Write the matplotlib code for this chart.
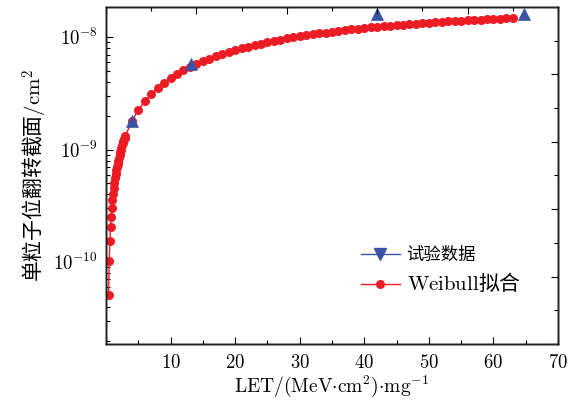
import matplotlib
matplotlib.use("Agg")
import matplotlib.pyplot as plt
from matplotlib.lines import Line2D
from matplotlib.ticker import FixedLocator, FuncFormatter, LogLocator, MultipleLocator, NullFormatter
import numpy as np

plt.rcParams["mathtext.fontset"] = "cm"
plt.rcParams["font.family"] = ["Noto Sans CJK SC", "DejaVu Sans"]

RED = "#ED1C24"
BLUE = "#3B53A4"

# 试验数据 (LET, 截面)
let_exp = [4.1, 13.1, 42.0, 64.8]
sigma_exp = [1.80e-9, 5.73e-9, 1.61e-8, 1.61e-8]

# Weibull 拟合曲线上的点
let_fit = [0.4, 0.5, 0.6, 0.7, 0.8, 0.9, 1.0, 1.1, 1.2, 1.3, 1.4, 1.5, 1.6, 1.7,
           1.8, 1.9, 2.0, 2.1, 2.2, 2.3, 2.4, 2.5, 2.6, 2.7, 2.8, 2.9, 3.0,
           4, 5, 6, 7, 8, 9, 10, 11, 12, 13, 14, 15, 16, 17, 18, 19, 20, 21, 22,
           23, 24, 25, 26, 27, 28, 29, 30, 31, 32, 33, 34, 35, 36, 37, 38, 39, 40,
           41, 42, 43, 44, 45, 46, 47, 48, 49, 50, 51, 52, 53, 54, 55, 56, 57, 58,
           59, 60, 61, 62, 63]
sigma_fit = [5.11e-11, 1.021e-10, 1.530e-10, 2.037e-10, 2.542e-10, 3.046e-10,
             3.549e-10, 4.050e-10, 4.550e-10, 5.048e-10, 5.545e-10, 6.040e-10,
             6.533e-10, 7.026e-10, 7.517e-10, 8.006e-10, 8.494e-10, 8.981e-10,
             9.466e-10, 9.950e-10, 1.0432e-9, 1.0913e-9, 1.1393e-9, 1.1871e-9,
             1.2347e-9, 1.2823e-9, 1.3297e-9,
             1.797e-9, 2.250e-9, 2.691e-9, 3.119e-9, 3.535e-9, 3.939e-9, 4.331e-9,
             4.712e-9, 5.082e-9, 5.442e-9, 5.791e-9, 6.130e-9, 6.460e-9, 6.780e-9,
             7.092e-9, 7.394e-9, 7.687e-9, 7.973e-9, 8.250e-9, 8.519e-9, 8.780e-9,
             9.034e-9, 9.281e-9, 9.521e-9, 9.753e-9, 9.980e-9, 1.0199e-8, 1.0413e-8,
             1.0620e-8, 1.0822e-8, 1.1017e-8, 1.1207e-8, 1.1392e-8, 1.1571e-8,
             1.1746e-8, 1.1915e-8, 1.2079e-8, 1.2239e-8, 1.2394e-8, 1.2545e-8,
             1.2691e-8, 1.2833e-8, 1.2972e-8, 1.3106e-8, 1.3236e-8, 1.3363e-8,
             1.3486e-8, 1.3606e-8, 1.3722e-8, 1.3834e-8, 1.3944e-8, 1.4050e-8,
             1.4154e-8, 1.4254e-8, 1.4352e-8, 1.4447e-8, 1.4539e-8, 1.4628e-8,
             1.4715e-8, 1.4800e-8]

x_ticks = [10, 20, 30, 40, 50, 60, 70]
legend_labels = ["试验数据", r"$\mathrm{Weibull}$拟合"]

fig = plt.figure(figsize=(5.78, 4.03), dpi=100)
ax = fig.add_axes([106 / 578, 59 / 403, 452 / 578, 337 / 403])

ax.plot(let_fit, sigma_fit, "-o", color=RED, lw=1.0, ms=6.5, mew=0, zorder=2)
ax.plot(let_exp, sigma_exp, "^", color=BLUE, ms=9, mew=0.5, mec=BLUE, ls="none", zorder=3)

ax.set_yscale("log")
ax.set_xlim(0, 70)
ax.set_ylim(1.866e-11, 1.859e-8)

ax.xaxis.set_major_locator(FixedLocator(x_ticks))
ax.xaxis.set_minor_locator(FixedLocator([5, 15, 25, 35, 45, 55, 65]))
ax.xaxis.set_major_formatter(FuncFormatter(lambda v, p: r"$\mathrm{%d}$" % v))
ax.yaxis.set_major_locator(LogLocator(base=10, numticks=10))
ax.yaxis.set_minor_locator(LogLocator(base=10, subs=np.arange(2, 10), numticks=20))
ax.yaxis.set_minor_formatter(NullFormatter())
ax.yaxis.set_major_formatter(
    FuncFormatter(lambda v, p: r"$\mathrm{10^{%d}}$" % round(np.log10(v))))

ax.tick_params(which="both", direction="in", top=False, right=False,
               labelsize=13.5, width=0.8, pad=6)
ax.tick_params(which="major", length=5)
ax.tick_params(which="minor", length=3)

# 顶部、右侧的线性刻度
ax_top = ax.twiny()
ax_top.set_xlim(0, 70)
ax_top.xaxis.set_major_locator(MultipleLocator(14))
ax_top.xaxis.set_minor_locator(MultipleLocator(7))
ax_top.tick_params(which="both", direction="in", labeltop=False, width=0.8)
ax_top.tick_params(which="major", length=5)
ax_top.tick_params(which="minor", length=3)

ax_right = ax.twinx()
ax_right.set_ylim(0, 1)
ax_right.yaxis.set_major_locator(MultipleLocator(0.2))
ax_right.yaxis.set_minor_locator(MultipleLocator(0.1))
ax_right.tick_params(which="both", direction="in", labelright=False, width=0.8)
ax_right.tick_params(which="major", length=5)
ax_right.tick_params(which="minor", length=3)

for a in (ax, ax_top, ax_right):
    for s in a.spines.values():
        s.set_linewidth(1.0)
        s.set_color("#222222")

ax.set_xlabel(r"$\mathrm{LET/(MeV{\cdot}cm^2){\cdot}mg^{-1}}$", fontsize=14, labelpad=0)
ax.set_ylabel(r"单粒子位翻转截面$/\mathrm{cm}^2$", fontsize=15, labelpad=3)

handles = [
    Line2D([], [], color=BLUE, lw=1.0, marker="v", ms=8),
    Line2D([], [], color=RED, lw=1.0, marker="o", ms=6.5, mew=0),
]
leg = ax_right.legend(handles, legend_labels, loc="center left",
                      bbox_to_anchor=(0.565, 0.218), frameon=False, fontsize=12.5,
                      handlelength=2.2, handletextpad=0.4, labelspacing=0.45,
                      borderpad=0, borderaxespad=0)
# Weibull 用较大字号的衬线字体
leg.get_texts()[1].set_fontsize(15)

fig.savefig("out.png", dpi=100)
